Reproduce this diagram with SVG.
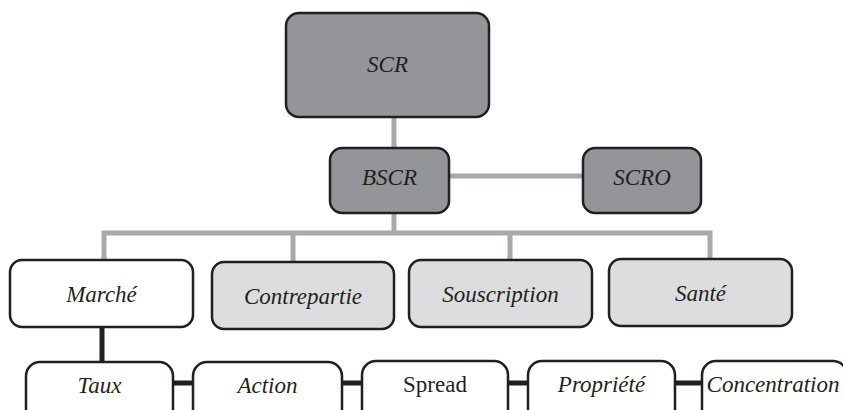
<svg xmlns="http://www.w3.org/2000/svg" width="843" height="410" viewBox="0 0 843 410">
<style>
.box{stroke:#231f20;stroke-width:2.5}
.dark{fill:#939598}
.light{fill:#dcdddf}
.white{fill:#ffffff}
.t{font-family:'Liberation Serif',Tinos,'Times New Roman',Times,'DejaVu Serif','Noto Serif',serif;font-size:23px;fill:#231f20;text-anchor:middle}
.i{font-style:italic}
.g{stroke:#a7a9ac;stroke-width:5;fill:none}
.k{stroke:#231f20;stroke-width:5;fill:none}
</style>
<rect width="843" height="410" fill="#ffffff"/>
<g id="connectors">
<line class="g" x1="394" y1="117" x2="394" y2="148"/>
<line class="g" x1="449" y1="176" x2="583" y2="176"/>
<line class="g" x1="394" y1="213" x2="394" y2="233"/>
<polyline class="g" points="104,260 104,233 710,233 710,259"/>
<line class="g" x1="293" y1="233" x2="293" y2="262"/>
<line class="g" x1="510" y1="233" x2="510" y2="260"/>
<line class="k" x1="102" y1="327" x2="102" y2="362"/>
<line class="k" x1="173" y1="383" x2="193" y2="383"/>
<line class="k" x1="342" y1="383" x2="362" y2="383"/>
<line class="k" x1="508" y1="383" x2="528" y2="383"/>
<line class="k" x1="675" y1="383" x2="702" y2="383"/>
</g>
<g id="scr"><rect class="box dark" x="286" y="13" width="203" height="104" rx="13"/><text class="t i" x="387.5" y="72">SCR</text></g>
<g id="bscr"><rect class="box dark" x="330" y="148" width="119" height="65" rx="12"/><text class="t i" x="389.5" y="185">BSCR</text></g>
<g id="scro"><rect class="box dark" x="583" y="148" width="118" height="65" rx="12"/><text class="t i" x="642" y="185">SCRO</text></g>
<g id="marche"><rect class="box white" x="10" y="260" width="183" height="67" rx="12"/><text class="t i" x="101.5" y="302">Marché</text></g>
<g id="contrepartie"><rect class="box light" x="212" y="262" width="182" height="67" rx="12"/><text class="t i" x="303" y="304">Contrepartie</text></g>
<g id="souscription"><rect class="box light" x="409" y="260" width="183" height="67" rx="12"/><text class="t i" x="500.5" y="302">Souscription</text></g>
<g id="sante"><rect class="box light" x="609" y="259" width="183" height="67" rx="12"/><text class="t i" x="700.5" y="301">Santé</text></g>
<g id="taux"><rect class="box white" x="26" y="362" width="147" height="70" rx="14"/><text class="t i" x="99.5" y="393">Taux</text></g>
<g id="action"><rect class="box white" x="193" y="362" width="149" height="70" rx="14"/><text class="t i" x="267.5" y="393">Action</text></g>
<g id="spread"><rect class="box white" x="362" y="361" width="146" height="70" rx="14"/><text class="t" x="435" y="392">Spread</text></g>
<g id="propriete"><rect class="box white" x="528" y="361" width="147" height="70" rx="14"/><text class="t i" x="601.5" y="392">Propriété</text></g>
<g id="concentration"><rect class="box white" x="702" y="361" width="145" height="70" rx="14"/><text class="t i" x="773" y="392">Concentration</text></g>
</svg>
